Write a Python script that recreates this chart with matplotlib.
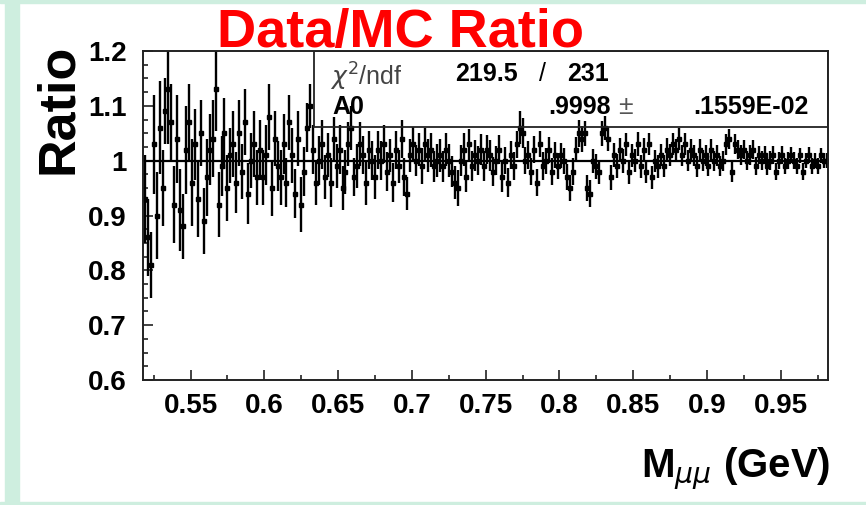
import numpy as np
import matplotlib
matplotlib.use("Agg")
from matplotlib import pyplot as plt
from matplotlib.patches import Rectangle
from matplotlib.ticker import MultipleLocator

plt.rcParams["font.family"] = ["Liberation Sans", "DejaVu Sans"]

# binning of the ratio histogram (232 bins, 2 MeV wide)
m_low, m_high, n_bins = 0.518, 0.982, 232

ratio = [
    0.93, 0.86, 0.81, 1.03, 0.90, 1.06, 0.95, 1.09, 1.13, 1.07,
    0.92, 1.04, 0.91, 0.88, 1.02, 1.07, 0.96, 1.03, 0.93, 1.05,
    0.89, 0.97, 1.02, 1.04, 1.13, 0.92, 0.99, 1.05, 0.95, 1.01,
    1.03, 0.96, 1.05, 0.98, 1.07, 0.94, 1.00, 1.03, 0.97, 1.02,
    0.97, 1.01, 1.08, 0.95, 1.04, 0.99, 0.97, 1.03, 0.96, 1.07,
    1.01, 0.94, 1.04, 0.92, 0.98, 1.06, 1.10, 1.02, 0.96, 1.00,
    1.03, 0.97, 1.01, 0.96, 1.04, 0.99, 1.02, 0.95, 0.98, 1.03,
    1.06, 0.97, 0.99, 1.03, 1.01, 0.96, 1.02, 1.00, 0.97, 1.02,
    1.00, 1.03, 0.98, 1.01, 0.96, 1.02, 0.99, 1.04, 0.97, 0.94,
    1.01, 1.03, 1.00, 1.02, 0.99, 1.03, 1.01, 1.02, 0.99, 1.00,
    1.01, 0.99, 1.02, 1.00, 0.98, 0.96, 0.95, 1.00, 1.02, 0.97,
    1.03, 0.99, 1.01, 1.00, 1.02, 0.99, 1.02, 1.01, 0.98, 1.00,
    1.02, 0.97, 1.00, 0.96, 1.01, 0.99, 1.03, 1.06, 1.05, 1.00,
    1.01, 0.98, 1.02, 0.96, 1.03, 0.99, 1.00, 1.02, 0.98, 1.01,
    0.99, 1.01, 1.00, 0.97, 0.95, 0.98, 1.02, 1.05, 1.04, 1.05,
    0.95, 0.94, 1.00, 0.99, 0.98, 1.05, 1.06, 1.04, 0.97, 1.01,
    0.99, 1.02, 1.00, 1.03, 0.98, 1.01, 1.00, 1.03, 0.99, 1.02,
    0.98, 1.03, 0.97, 1.00, 0.99, 1.01, 0.99, 1.02, 1.01, 1.03,
    1.02, 1.04, 1.01, 1.03, 1.00, 1.02, 1.01, 0.99, 1.02, 1.00,
    1.01, 0.99, 1.02, 1.00, 1.01, 0.99, 1.00, 1.03, 1.04, 0.98,
    1.03, 1.02, 1.01, 1.02, 1.00, 1.01, 1.02, 0.99, 1.01, 1.00,
    1.01, 0.99, 1.00, 1.01, 0.98, 1.00, 1.01, 0.99, 1.00, 1.01,
    1.00, 0.99, 1.01, 0.98, 1.00, 1.01, 0.99, 1.00, 0.99, 1.01, 1.00, 1.00,
]

ratio_err = [
    0.08, 0.07, 0.06, 0.09, 0.08, 0.085, 0.07, 0.06, 0.10, 0.07,
    0.07, 0.08, 0.075, 0.06, 0.08, 0.07, 0.08, 0.065, 0.07, 0.06,
    0.06, 0.07, 0.065, 0.07, 0.075, 0.06, 0.055, 0.065, 0.06, 0.05,
    0.06, 0.055, 0.06, 0.05, 0.06, 0.055, 0.05, 0.06, 0.05, 0.055,
    0.05, 0.055, 0.06, 0.05, 0.05, 0.045, 0.05, 0.055, 0.045, 0.05,
    0.05, 0.045, 0.05, 0.05, 0.045, 0.045, 0.04, 0.045, 0.04, 0.045,
    0.045, 0.04, 0.04, 0.045, 0.04, 0.04, 0.045, 0.04, 0.04, 0.04,
    0.04, 0.035, 0.04, 0.04, 0.035, 0.04, 0.035, 0.035, 0.04, 0.035,
    0.035, 0.035, 0.035, 0.03, 0.035, 0.035, 0.03, 0.035, 0.035, 0.03,
    0.03, 0.032, 0.028, 0.03, 0.033, 0.029, 0.03, 0.031, 0.028, 0.03,
    0.03, 0.028, 0.03, 0.03, 0.028, 0.03, 0.033, 0.028, 0.03, 0.028,
    0.028, 0.027, 0.028, 0.026, 0.028, 0.027, 0.026, 0.028, 0.027, 0.026,
    0.026, 0.027, 0.025, 0.026, 0.025, 0.026, 0.025, 0.03, 0.027, 0.025,
    0.025, 0.024, 0.025, 0.025, 0.024, 0.025, 0.024, 0.024, 0.025, 0.024,
    0.024, 0.023, 0.024, 0.024, 0.023, 0.024, 0.023, 0.025, 0.024, 0.023,
    0.023, 0.025, 0.022, 0.023, 0.022, 0.023, 0.022, 0.022, 0.023, 0.022,
    0.022, 0.021, 0.022, 0.021, 0.022, 0.021, 0.021, 0.022, 0.021, 0.021,
    0.021, 0.02, 0.021, 0.02, 0.021, 0.02, 0.02, 0.021, 0.02, 0.02,
    0.02, 0.02, 0.019, 0.02, 0.019, 0.02, 0.019, 0.019, 0.02, 0.019,
    0.019, 0.018, 0.019, 0.018, 0.019, 0.018, 0.018, 0.019, 0.018, 0.018,
    0.018, 0.017, 0.018, 0.017, 0.017, 0.018, 0.017, 0.017, 0.016, 0.017,
    0.016, 0.016, 0.017, 0.016, 0.015, 0.016, 0.016, 0.015, 0.016, 0.015,
    0.015, 0.015, 0.014, 0.015, 0.014, 0.015, 0.014, 0.014, 0.015, 0.014, 0.014, 0.014,
]

# fit result (pol0)
fit_a0 = 0.9998
chi2_text = "219.5"
ndf_text = "231"
a0_text = ".9998"
a0_err_text = ".1559E-02"

edges = np.linspace(m_low, m_high, n_bins + 1)
centers = 0.5 * (edges[:-1] + edges[1:])

fig = plt.figure(figsize=(8.66, 5.05), dpi=100)
green = "#ceeedf"
fig.patches.append(Rectangle((5 / 866, 0), 14 / 866, 1, transform=fig.transFigure, color=green, zorder=0))
fig.patches.append(Rectangle((0, 1 - 3 / 505), 1, 3 / 505, transform=fig.transFigure, color=green, zorder=0))
fig.patches.append(Rectangle((0, 0), 1, 3 / 505, transform=fig.transFigure, color=green, zorder=0))

ax = fig.add_axes([0.1655, 0.2475, 0.7906, 0.6515])
ax.errorbar(centers, ratio, yerr=ratio_err, fmt="s", ms=2.2, color="black",
            ecolor="black", elinewidth=1.7, capsize=0)
ax.axhline(fit_a0, color="black", lw=1.6)

ax.set_xlim(m_low, m_high)
ax.set_ylim(0.6, 1.2)
ax.xaxis.set_major_locator(MultipleLocator(0.05))
ax.xaxis.set_minor_locator(MultipleLocator(0.025))
ax.yaxis.set_major_locator(MultipleLocator(0.1))
ax.yaxis.set_minor_locator(MultipleLocator(0.025))
ax.set_xticks([0.55, 0.6, 0.65, 0.7, 0.75, 0.8, 0.85, 0.9, 0.95])
ax.set_xticklabels(["0.55", "0.6", "0.65", "0.7", "0.75", "0.8", "0.85", "0.9", "0.95"])
ax.set_yticks([0.6, 0.7, 0.8, 0.9, 1.0, 1.1, 1.2])
ax.set_yticklabels(["0.6", "0.7", "0.8", "0.9", "1", "1.1", "1.2"])
ax.tick_params(which="both", direction="in", top=False, right=False, width=1.2, color="#222222")
ax.tick_params(which="major", length=7.5, labelsize=20)
ax.tick_params(which="minor", length=3.5)
ax.tick_params(axis="x", pad=9)
ax.tick_params(axis="y", pad=12)
for lab in ax.get_xticklabels() + ax.get_yticklabels():
    lab.set_fontweight("bold")
for sp in ax.spines.values():
    sp.set_linewidth(1.4)
    sp.set_color("#222222")

# stats box
ax.add_patch(Rectangle((0.2493, 0.769), 0.7507, 0.231, transform=ax.transAxes,
                       fill=False, lw=1.3, edgecolor="#222222", zorder=5))
ax.text(0.273, 0.922, r"$\chi^2$/ndf", transform=ax.transAxes, fontsize=18,
        color="#444444", va="center", ha="left")
ax.text(0.455, 0.93, chi2_text, transform=ax.transAxes, fontsize=18,
        fontweight="bold", va="center", ha="left")
ax.text(0.583, 0.93, "/", transform=ax.transAxes, fontsize=18, va="center", ha="center")
ax.text(0.619, 0.93, ndf_text, transform=ax.transAxes, fontsize=18,
        fontweight="bold", va="center", ha="left")
ax.text(0.276, 0.83, "A0", transform=ax.transAxes, fontsize=18,
        fontweight="bold", va="center", ha="left")
ax.text(0.591, 0.83, a0_text, transform=ax.transAxes, fontsize=18,
        fontweight="bold", va="center", ha="left")
ax.text(0.693, 0.83, "\u00b1", transform=ax.transAxes, fontsize=19,
        color="#555555", va="center", ha="left")
ax.text(0.971, 0.83, a0_err_text, transform=ax.transAxes, fontsize=18,
        fontweight="bold", va="center", ha="right")

fig.text(0.462, 0.907, "Data/MC Ratio", color="#ff0000", fontsize=39,
         fontweight="bold", ha="center", va="baseline")
fig.text(72 / 866, 0.785, "Ratio", fontsize=37.5, fontweight="bold", rotation=90,
         rotation_mode="anchor", ha="center", va="baseline")
fig.text(830 / 866, 1 - 477 / 505, r"M$_{\mu\mu}$ (GeV)", fontsize=29,
         fontweight="bold", ha="right", va="baseline")

fig.savefig("out.png", dpi=100)
